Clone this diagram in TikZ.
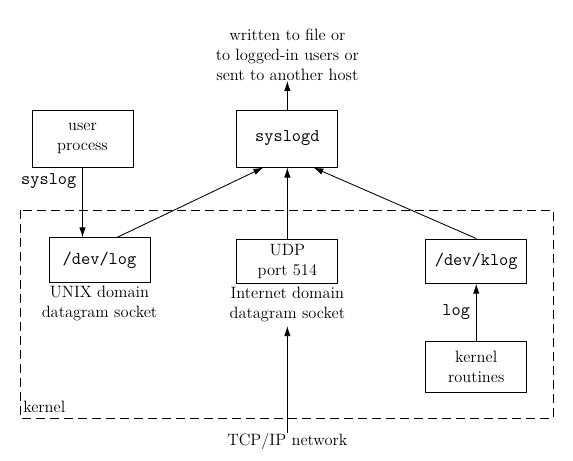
\documentclass[tikz,border=0pt]{standalone}
\usepackage{fontspec}
\usetikzlibrary{positioning,arrows.meta}

\begin{document}
\begin{tikzpicture}[x=0.7pt, y=-0.7pt,
    box/.style={draw, line width=0.6pt, minimum width=70.7pt, align=center, inner sep=0pt, font=\fontsize{11.5}{14}\selectfont},
    caption/.style={align=center, inner sep=0pt, font=\fontsize{11.5}{14}\selectfont},
    code/.style={font=\fontsize{12.5}{14}\selectfont\ttfamily},
    arr/.style={-{Latex[length=7pt,width=4.5pt]}, line width=0.6pt}]
    \useasboundingbox (0,0) rectangle (573,460);

    % kernel area
    \draw[line width=0.6pt, dash pattern=on 6.3pt off 3.5pt] (20,210) rectangle (553,418);
    \node[caption, anchor=base west] (kernel) at (23,412) {kernel};

    % boxes
    \node[box, minimum height=40pt] (user) at (82.5,138.5) {user\\process};
    \node[box, code, minimum height=40pt] (syslogd) [right=72.1pt of user] {syslogd};
    \node[box, code, minimum height=31pt] (devlog) at (99.5,260) {/dev/log};
    \node[box, minimum height=31pt] (udp) [below=49.7pt of syslogd] {UDP\\port 514};
    \node[box, code, minimum height=31pt] (klog) [right=60.9pt of udp] {/dev/klog};
    \node[box, minimum height=36pt] (kroutines) [below=39.9pt of klog] {kernel\\routines};

    % texts
    \node[caption] (out) [above=20pt of syslogd] {written to file or\\to logged-in users or\\sent to another host};
    \node[caption] (unixcap) [below=2pt of devlog] {UNIX domain\\datagram socket};
    \node[caption] (udpcap) [below=2pt of udp] {Internet domain\\datagram socket};
    \node[caption] (net) [below=78pt of udpcap] {TCP/IP network};

    % connectors
    \draw[arr] (user.south) -- node[code, pos=0.2, left, inner sep=4pt] {syslog} (user.south |- devlog.north);
    \draw[arr] ([xshift=12.25pt]devlog.north) -- ([xshift=-16.8pt]syslogd.south);
    \draw[arr] (udp) -- (syslogd);
    \draw[arr] (klog.north) -- ([xshift=18.2pt]syslogd.south);
    \draw[arr] (kroutines) -- node[code, left, inner sep=4pt] {log} (klog);
    \draw[arr] (syslogd) -- (out);
    \draw[arr] (net) -- ([yshift=-3pt]udpcap.south);
\end{tikzpicture}
\end{document}
